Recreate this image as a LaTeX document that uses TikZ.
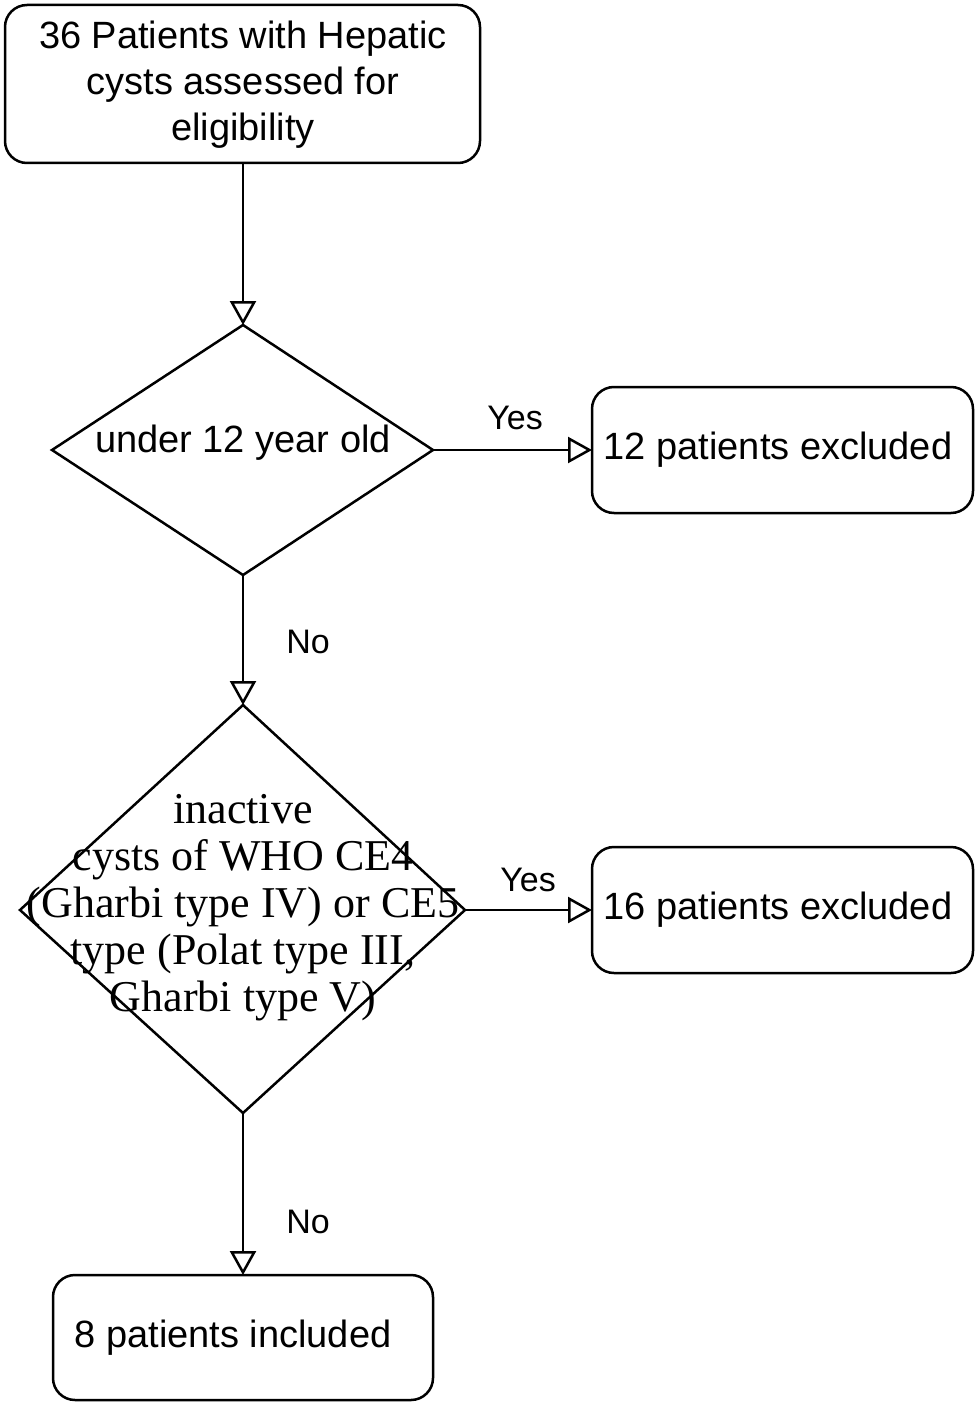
\documentclass[tikz,border=0pt]{standalone}
\usepackage{fontspec}
\setmainfont{Liberation Sans}
\newfontfamily\serifx{Liberation Serif}
\usetikzlibrary{shapes.geometric,arrows.meta}
\begin{document}
\begin{tikzpicture}[x=1pt,y=-1pt,
  box/.style={draw,line width=2.5pt,rounded corners=22pt},
  dia/.style={draw,line width=2.5pt},
  arr/.style={line width=2.5pt,-{Triangle[open,length=24pt,width=26pt,line width=2.5pt]}},
  lab/.style={font=\fontsize{34}{36}\selectfont}]
\useasboundingbox (0,0) rectangle (978,1407);
\draw[box] (5,5) rectangle (480,163);
\node[font=\fontsize{38}{46}\selectfont,align=center] (b1) at (243,85) {36 Patients with Hepatic\\cysts assessed for\\eligibility};
\coordinate (b1s) at (243,163);
\draw[dia] (243,325)--(433,450)--(243,575)--(52,450)--cycle;
\coordinate (d1t) at (243,325); \coordinate (d1r) at (433,450); \coordinate (d1b) at (243,575);
\node[font=\fontsize{38}{40}\selectfont] (d1) at (243,443) {under 12 year old};
\draw[box] (592,387) rectangle (973,513);
\node[font=\fontsize{38}{40}\selectfont] (b2) at (778,450) {12 patients excluded};
\coordinate (b2l) at (592,450);
\draw[dia] (243,705)--(465,910)--(243,1113)--(20,910)--cycle;
\coordinate (d2t) at (243,705); \coordinate (d2r) at (465,910); \coordinate (d2b) at (243,1113);
\node[font=\serifx\fontsize{44}{47}\selectfont,align=center] (d2) at (243,908) {inactive\\cysts of WHO CE4\\(Gharbi type IV) or CE5\\type (Polat type III,\\Gharbi type V)};
\draw[box] (592,847) rectangle (973,973);
\node[font=\fontsize{38}{40}\selectfont] (b3) at (778,910) {16 patients excluded};
\coordinate (b3l) at (592,910);
\draw[box] (53,1275) rectangle (433,1400);
\node[font=\fontsize{38}{40}\selectfont] (b4) at (233,1338) {8 patients included};
\coordinate (b4t) at (243,1275);
\draw[arr] (b1s)--(d1t);
\draw[arr] (d1r)--(b2l);
\draw[arr] (d1b)--(d2t);
\draw[arr] (d2r)--(b3l);
\draw[arr] (d2b)--(b4t);
\node[lab] (y1) at (515,418) {Yes};
\node[lab] (n1) at (308,642) {No};
\node[lab] (y2) at (528,880) {Yes};
\node[lab] (n2) at (308,1222) {No};
\end{tikzpicture}
\end{document}
